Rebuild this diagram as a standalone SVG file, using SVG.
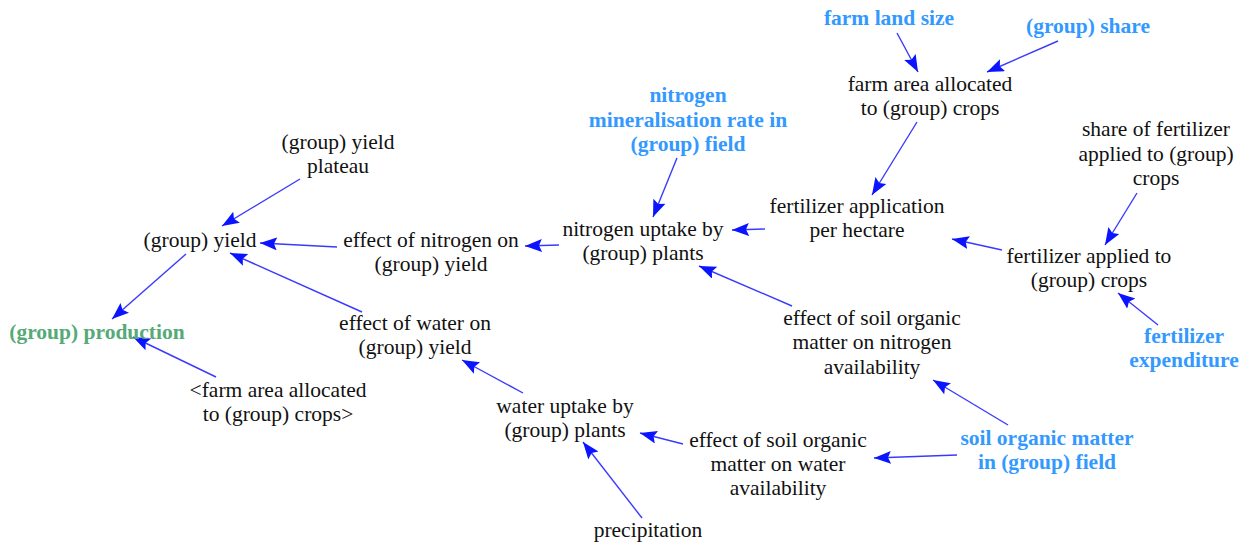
<svg xmlns="http://www.w3.org/2000/svg" width="1251" height="545" viewBox="0 0 1251 545">
  <defs>
    <style>
      text { font-family: 'Liberation Serif', 'DejaVu Serif', serif; font-size: 21.5px; text-anchor: middle; fill: #111111; }
      .src { font-weight: bold; fill: #3399ff; }
      .out { font-weight: bold; fill: #55aa77; }
      .link { stroke: #3a3aff; stroke-width: 1.4; fill: none; marker-end: url(#head); }
    </style>
    <marker id="head" markerUnits="userSpaceOnUse" markerWidth="18" markerHeight="14" refX="17" refY="6.5" orient="auto">
      <path d="M0,0 L17,6.5 L0,13 L3,6.5 z" fill="#0a14ff"/>
    </marker>
  </defs>

  <rect width="1251" height="545" fill="#ffffff"/>

  <!-- connectors -->
  <g id="connectors">
    <line class="link" x1="897" y1="33" x2="918" y2="72"/>
    <line class="link" x1="1058" y1="41" x2="987" y2="72"/>
    <line class="link" x1="917" y1="122" x2="872" y2="195"/>
    <line class="link" x1="677" y1="158" x2="653" y2="217"/>
    <line class="link" x1="765" y1="229" x2="732" y2="230"/>
    <line class="link" x1="559" y1="245" x2="525" y2="246"/>
    <line class="link" x1="792" y1="306" x2="699" y2="266"/>
    <line class="link" x1="1137" y1="193" x2="1105" y2="245"/>
    <line class="link" x1="1002" y1="250" x2="952" y2="239"/>
    <line class="link" x1="1158" y1="325" x2="1118" y2="293"/>
    <line class="link" x1="1008" y1="425" x2="933" y2="380"/>
    <line class="link" x1="957" y1="455" x2="874" y2="458"/>
    <line class="link" x1="683" y1="444" x2="640" y2="433"/>
    <line class="link" x1="642" y1="518" x2="583" y2="442"/>
    <line class="link" x1="523" y1="393" x2="462" y2="360"/>
    <line class="link" x1="300" y1="179" x2="222" y2="226"/>
    <line class="link" x1="337" y1="247" x2="260" y2="243"/>
    <line class="link" x1="362" y1="312" x2="230" y2="253"/>
    <line class="link" x1="186" y1="254" x2="112" y2="319"/>
    <line class="link" x1="216" y1="377" x2="133" y2="337"/>
  </g>

  <!-- variables -->
  <g id="farm-land-size"><text class="src" x="889" y="25">farm land size</text></g>
  <g id="group-share"><text class="src" x="1088" y="33">(group) share</text></g>
  <g id="farm-area-allocated">
    <text x="930" y="91">farm area allocated</text>
    <text x="930" y="115">to (group) crops</text>
  </g>
  <g id="share-of-fertilizer">
    <text x="1156" y="136">share of fertilizer</text>
    <text x="1156" y="161">applied to (group)</text>
    <text x="1156" y="185">crops</text>
  </g>
  <g id="nitrogen-mineralisation-rate">
    <text class="src" x="688" y="102">nitrogen</text>
    <text class="src" x="688" y="127">mineralisation rate in</text>
    <text class="src" x="688" y="151">(group) field</text>
  </g>
  <g id="yield-plateau">
    <text x="338" y="149">(group) yield</text>
    <text x="338" y="173">plateau</text>
  </g>
  <g id="fertilizer-application">
    <text x="857" y="213">fertilizer application</text>
    <text x="857" y="237">per hectare</text>
  </g>
  <g id="nitrogen-uptake">
    <text x="643" y="236">nitrogen uptake by</text>
    <text x="643" y="260">(group) plants</text>
  </g>
  <g id="group-yield"><text x="200" y="247">(group) yield</text></g>
  <g id="effect-of-nitrogen">
    <text x="431" y="247">effect of nitrogen on</text>
    <text x="431" y="271">(group) yield</text>
  </g>
  <g id="fertilizer-applied">
    <text x="1089" y="263">fertilizer applied to</text>
    <text x="1089" y="287">(group) crops</text>
  </g>
  <g id="effect-of-water">
    <text x="415" y="330">effect of water on</text>
    <text x="415" y="354">(group) yield</text>
  </g>
  <g id="group-production"><text class="out" x="97" y="339">(group) production</text></g>
  <g id="effect-som-nitrogen">
    <text x="872" y="325">effect of soil organic</text>
    <text x="872" y="349">matter on nitrogen</text>
    <text x="872" y="374">availability</text>
  </g>
  <g id="fertilizer-expenditure">
    <text class="src" x="1184" y="343">fertilizer</text>
    <text class="src" x="1184" y="367">expenditure</text>
  </g>
  <g id="farm-area-shadow">
    <text x="278" y="397">&lt;farm area allocated</text>
    <text x="278" y="421">to (group) crops&gt;</text>
  </g>
  <g id="water-uptake">
    <text x="565" y="413">water uptake by</text>
    <text x="565" y="437">(group) plants</text>
  </g>
  <g id="soil-organic-matter">
    <text class="src" x="1047" y="445">soil organic matter</text>
    <text class="src" x="1047" y="469">in (group) field</text>
  </g>
  <g id="effect-som-water">
    <text x="778" y="447">effect of soil organic</text>
    <text x="778" y="471">matter on water</text>
    <text x="778" y="495">availability</text>
  </g>
  <g id="precipitation"><text x="648" y="537">precipitation</text></g>
</svg>
